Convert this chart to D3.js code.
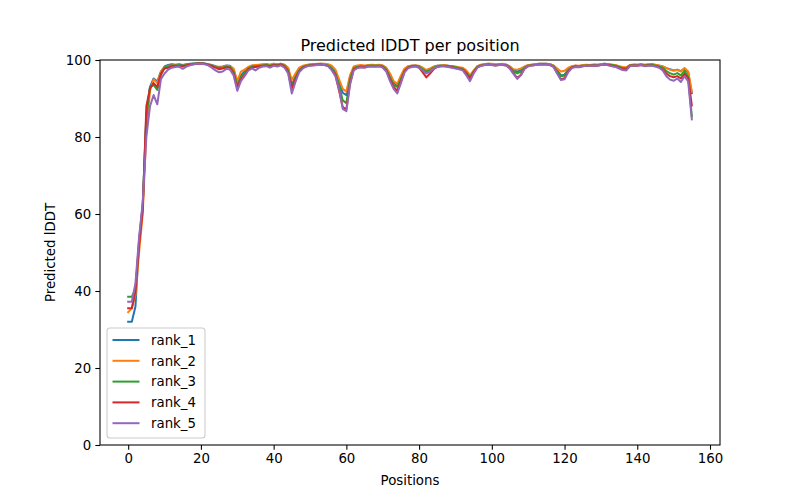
<!DOCTYPE html>
<html>
<head>
<meta charset="utf-8">
<script src="https://cdn.jsdelivr.net/npm/d3@7"></script>
<style>
  html, body { margin: 0; padding: 0; background: #fff; }
  svg { display: block; font-family: "DejaVu Sans", sans-serif; }
</style>
</head>
<body>
<svg id="chart" width="800" height="500"></svg>
<script>
const seriesNames = ["rank_1", "rank_2", "rank_3", "rank_4", "rank_5"];
const seriesColors = ["#1f77b4", "#ff7f0e", "#2ca02c", "#d62728", "#9467bd"];

const rank_1 = [32,32,36,53,62.5,86,93,95.2,94.4,97,98.3,98.7,98.9,98.8,98.9,98.7,98.9,99.0,99.1,99.2,
99.2,99.1,98.9,98.7,98.4,98.2,98.3,98.6,98.5,97.5,94.0,96.0,97.0,98.0,98.5,98.6,98.7,98.8,98.9,98.7,
99.0,98.8,99.0,98.7,97.8,93.5,95.8,97.6,98.3,98.6,98.8,98.9,98.9,99.0,98.9,98.7,98.0,96.8,94.0,91.5,90.9,
95.5,98.0,98.3,98.5,98.4,98.6,98.7,98.6,98.7,98.5,97.8,96.0,94.2,93.2,95.5,97.5,98.3,98.5,98.6,98.4,
97.8,97.2,97.6,98.2,98.5,98.6,98.6,98.5,98.4,98.2,98.0,97.8,96.8,95.5,97.0,98.3,98.7,98.9,99.0,98.9,
98.8,98.9,98.9,98.8,98.3,97.3,97.0,97.4,98.2,98.6,98.8,98.9,99.0,99.0,99.0,98.9,98.5,97.3,96.0,96.2,
97.5,98.2,98.5,98.4,98.6,98.7,98.7,98.8,98.7,98.9,99.0,98.9,98.8,98.6,98.3,98.0,98.0,98.7,98.8,98.7,
98.9,98.7,98.8,98.9,98.7,98.5,98.3,97.9,97.6,97.3,97.5,97.1,97.8,96.8,91.4];

const rank_2 = [34.5,35.5,39,50,60,82,92,95,94,97,98,98.5,98.6,98.7,98.5,98.6,98.8,98.9,99.0,99.1,
99.1,99.0,98.9,98.6,98.3,98.0,98.2,98.5,98.4,97.8,94.5,97.0,97.5,98.2,98.6,98.7,98.8,98.9,98.9,98.8,
99.0,98.9,99.0,98.8,98.0,94.8,96.5,98.0,98.5,98.7,98.9,98.9,99.0,99.0,99.0,98.9,98.5,97.5,95.0,92.5,91.8,
96.0,98.3,98.6,98.7,98.6,98.7,98.8,98.7,98.8,98.6,98.0,96.5,94.5,93.8,96.0,97.8,98.4,98.6,98.6,98.5,
98.0,97.4,97.8,98.3,98.5,98.6,98.7,98.5,98.4,98.3,98.1,98.0,97.3,96.0,97.3,98.4,98.8,98.9,99.0,99.0,
98.9,98.9,99.0,98.8,98.2,97.6,97.5,97.8,98.3,98.7,98.8,98.9,99.0,99.0,99.0,98.9,98.6,97.8,97.0,97.2,
98.0,98.4,98.6,98.5,98.7,98.8,98.7,98.8,98.8,98.9,99.0,98.9,98.8,98.7,98.4,98.2,98.1,98.7,98.8,98.8,
98.9,98.8,98.9,98.9,98.8,98.6,98.3,97.9,97.5,97.2,97.4,97.0,97.9,97.0,91.8];

const rank_3 = [38.5,38.5,40.5,53,62,85,93,93.5,92.2,96,98,98.3,98.5,98.6,98.6,98.5,98.7,98.9,99.0,99.1,
99.1,99.0,98.8,98.5,98.2,97.9,98.0,98.3,98.2,97.0,93.2,95.5,96.5,97.8,98.3,98.4,98.5,98.6,98.7,98.5,
98.8,98.7,98.9,98.5,97.3,93.0,95.5,97.3,98.1,98.5,98.7,98.8,98.8,98.9,98.8,98.6,97.8,96.5,93.5,89.5,88.8,
95.0,97.8,98.2,98.4,98.3,98.5,98.6,98.5,98.6,98.4,97.5,95.5,93.5,93.0,95.0,97.2,98.1,98.4,98.5,98.3,
97.6,97.0,97.4,98.0,98.4,98.5,98.5,98.4,98.3,98.1,97.9,97.7,96.7,95.5,97.0,98.2,98.6,98.8,98.9,98.8,
98.7,98.8,98.8,98.7,98.0,97.0,96.5,97.0,98.0,98.5,98.7,98.8,98.9,98.9,98.9,98.8,98.4,97.0,95.8,96.0,
97.3,98.1,98.4,98.3,98.5,98.6,98.6,98.7,98.6,98.8,98.9,98.8,98.7,98.5,98.2,97.9,97.8,98.6,98.7,98.6,
98.8,98.6,98.7,98.8,98.6,98.3,98.0,97.1,96.6,96.2,96.6,96.0,97.2,95.6,85.4];

const rank_4 = [35.5,35.5,40,52,61,88,92.6,94,93,96.5,97.8,98,98.3,98.5,98.4,98.4,98.6,98.8,98.9,99.0,
99.1,99.0,98.8,98.4,98.0,97.6,97.8,98.1,98.0,96.5,92.8,95.0,96.0,97.5,98.0,98.2,98.3,98.5,98.6,98.3,
98.7,98.5,98.8,98.3,96.8,92.6,95.0,97.0,98.0,98.4,98.6,98.7,98.8,98.8,98.7,98.4,97.5,96.0,92.0,87.8,87.2,
94.0,97.5,98.0,98.2,98.1,98.3,98.4,98.3,98.4,98.2,97.2,95.0,93.0,92.0,94.5,97.0,98.0,98.3,98.4,98.0,
96.8,95.5,96.5,97.6,98.2,98.4,98.4,98.3,98.1,97.9,97.7,97.5,96.5,95.2,96.8,98.1,98.5,98.7,98.8,98.7,
98.6,98.7,98.7,98.6,97.8,96.5,95.3,96.2,97.8,98.4,98.6,98.7,98.8,98.9,98.8,98.7,98.2,96.5,95.0,95.3,
97.0,98.0,98.3,98.2,98.4,98.5,98.5,98.6,98.5,98.7,98.8,98.7,98.5,98.3,98.0,97.6,97.6,98.5,98.6,98.5,
98.7,98.5,98.6,98.6,98.4,98.1,97.5,96.5,95.8,95.5,95.8,95.2,96.4,95.3,88.2];

const rank_5 = [37.2,37.2,42,54,63,80,88,90.9,88.5,95,96.5,97.5,98,98.2,98.3,97.7,98.3,98.6,98.9,99.0,
99.0,98.9,98.6,98.0,97.3,96.8,97.0,97.7,97.5,96.0,92.0,94.5,95.8,97.2,97.8,97.3,98.0,98.3,98.4,98.0,
98.5,98.3,98.6,98.0,96.5,91.3,94.3,96.8,97.8,98.3,98.5,98.6,98.7,98.8,98.7,98.4,97.3,95.8,92.5,87.3,86.7,
93.5,97.3,97.9,98.1,98.0,98.3,98.4,98.3,98.4,98.0,97.0,94.5,92.5,91.3,94.0,96.8,97.9,98.2,98.3,98.0,
97.3,96.5,97.0,97.8,98.2,98.4,98.4,98.2,98.0,97.8,97.6,97.3,96.0,94.5,96.5,98.0,98.5,98.7,98.8,98.7,
98.6,98.7,98.7,98.6,97.7,96.3,95.1,96.0,97.7,98.4,98.6,98.7,98.8,98.8,98.8,98.7,98.2,96.5,94.8,95.0,
96.8,97.9,98.2,98.1,98.4,98.5,98.5,98.6,98.5,98.7,98.8,98.6,98.4,98.2,97.8,97.4,97.3,98.4,98.6,98.5,
98.7,98.4,98.5,98.5,98.3,98.0,97.3,95.8,94.9,94.6,95.2,94.3,95.8,94.4,84.6];

const seriesValues = [rank_1, rank_2, rank_3, rank_4, rank_5];
const xTicks = [0, 20, 40, 60, 80, 100, 120, 140, 160];
const yTicks = [0, 20, 40, 60, 80, 100];
const titleText = "Predicted lDDT per position";
const xLabelText = "Positions";
const yLabelText = "Predicted lDDT";

const svg = d3.select("#chart");
const W = 800, H = 500;
const m = { left: 100, right: 720, top: 60, bottom: 445 };

const n = rank_1.length;
const xMin = 0, xMax = n - 1;
const pad = (xMax - xMin) * 0.05;
const x = d3.scaleLinear().domain([xMin - pad, xMax + pad]).range([m.left, m.right]);
const y = d3.scaleLinear().domain([0, 100]).range([m.bottom, m.top]);

svg.append("rect").attr("width", W).attr("height", H).attr("fill", "#fff");

svg.append("clipPath").attr("id", "clip")
  .append("rect").attr("x", m.left).attr("y", m.top)
  .attr("width", m.right - m.left).attr("height", m.bottom - m.top);

const line = d3.line().x((d, i) => x(i)).y(d => y(d));
const gLines = svg.append("g").attr("clip-path", "url(#clip)");
seriesValues.forEach((vals, k) => {
  gLines.append("path").datum(vals)
    .attr("d", line)
    .attr("fill", "none")
    .attr("stroke", seriesColors[k])
    .attr("stroke-width", 2)
    .attr("stroke-linejoin", "round")
    .attr("stroke-linecap", "square");
});

const xAxis = d3.axisBottom(x).tickValues(xTicks).tickSize(4.67).tickPadding(4.2).tickFormat(d3.format("d"));
const yAxis = d3.axisLeft(y).tickValues(yTicks).tickSize(4.67).tickPadding(4.2).tickFormat(d3.format("d"));

const gx = svg.append("g").attr("transform", `translate(0,${m.bottom})`).call(xAxis);
const gy = svg.append("g").attr("transform", `translate(${m.left},0)`).call(yAxis);
[gx, gy].forEach(g => {
  g.select(".domain").remove();
  g.selectAll(".tick line").attr("stroke", "#000").attr("stroke-width", 1.07);
  g.selectAll(".tick text").attr("fill", "#000").attr("font-size", "13.33px")
    .attr("font-family", "DejaVu Sans, sans-serif");
});
gy.selectAll(".tick text").attr("dy", "0.33em");

svg.append("rect").attr("x", m.left).attr("y", m.top)
  .attr("width", m.right - m.left).attr("height", m.bottom - m.top)
  .attr("fill", "none").attr("stroke", "#000").attr("stroke-width", 1.07);

svg.append("text").attr("x", (m.left + m.right) / 2).attr("y", 51)
  .attr("text-anchor", "middle").attr("font-size", "16px").attr("fill", "#000")
  .text(titleText);
svg.append("text").attr("x", (m.left + m.right) / 2).attr("y", 485)
  .attr("text-anchor", "middle").attr("font-size", "13.33px").attr("fill", "#000")
  .text(xLabelText);
const ylx = 55, yly = (m.top + m.bottom) / 2;
svg.append("text").attr("x", ylx).attr("y", yly)
  .attr("transform", `rotate(-90,${ylx},${yly})`)
  .attr("text-anchor", "middle").attr("font-size", "13.33px").attr("fill", "#000")
  .text(yLabelText);

const lg = svg.append("g");
const lx = 107, ly = 328, lw = 98, lh = 110;
lg.append("rect").attr("x", lx).attr("y", ly).attr("width", lw).attr("height", lh)
  .attr("rx", 3).attr("ry", 3)
  .attr("fill", "rgba(255,255,255,0.8)").attr("stroke", "#cccccc").attr("stroke-width", 1.07);
seriesNames.forEach((name, k) => {
  const yy = 340 + k * 20.8;
  lg.append("line").attr("x1", 112.5).attr("x2", 139.5).attr("y1", yy).attr("y2", yy)
    .attr("stroke", seriesColors[k]).attr("stroke-width", 2);
  lg.append("text").attr("x", 151).attr("y", yy + 4.7)
    .attr("font-size", "13.33px").attr("fill", "#000").text(name);
});
</script>
</body>
</html>
